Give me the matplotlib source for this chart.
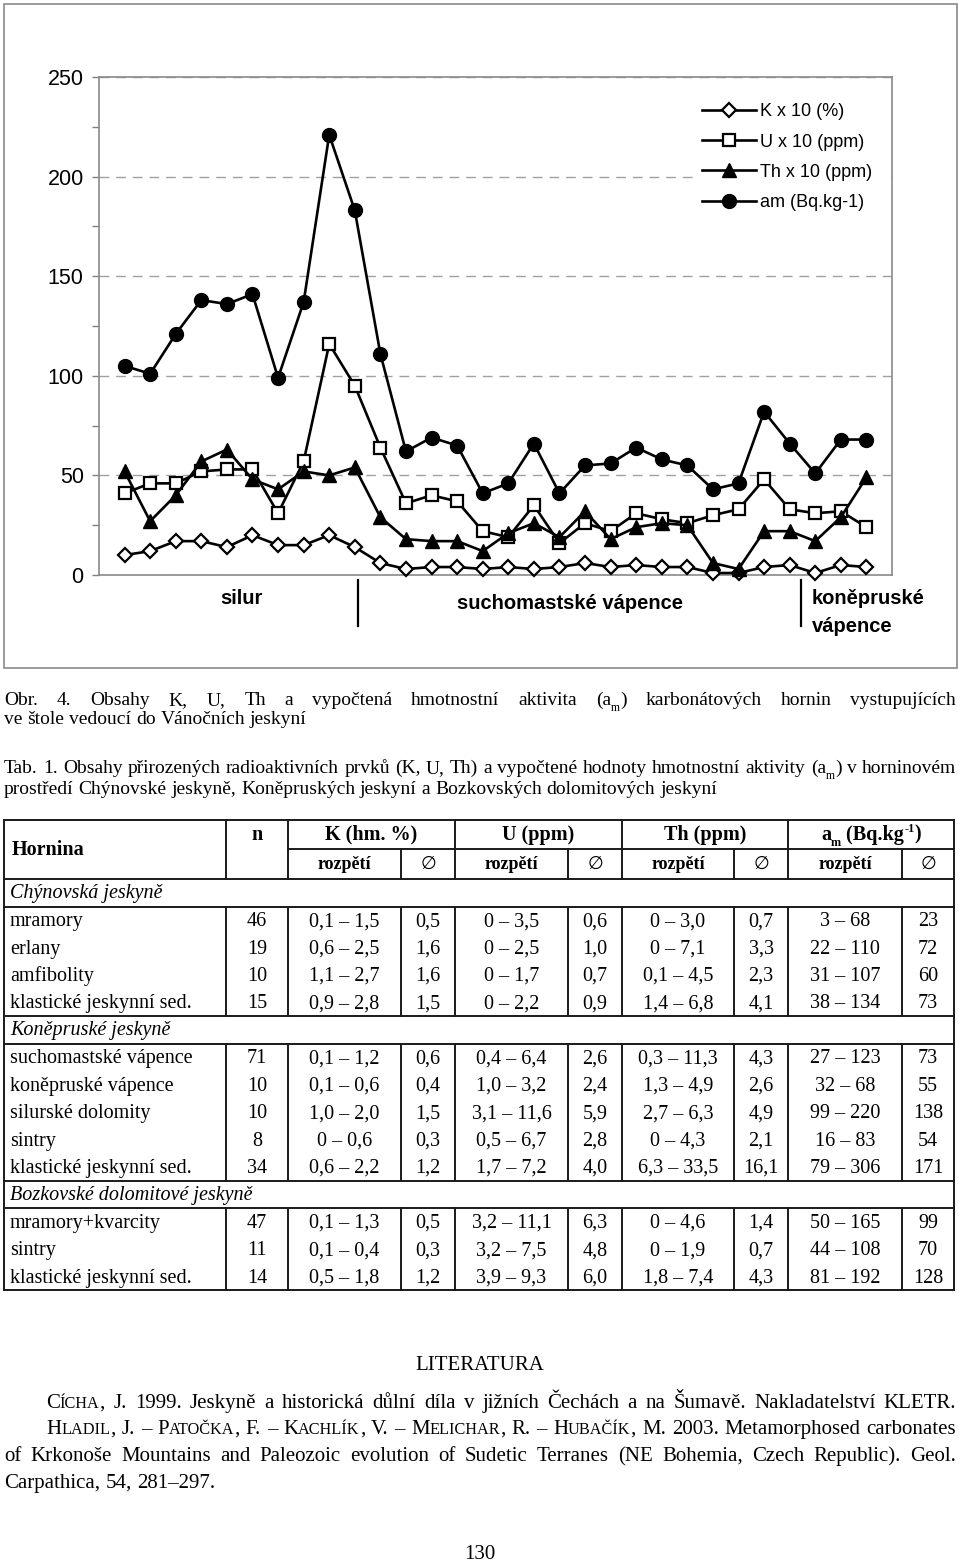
import matplotlib
matplotlib.use('Agg')
import matplotlib.pyplot as plt
from matplotlib.patches import Rectangle

W, H, DPI = 960, 1561, 100

# ---------------- chart data ----------------
sample_idx = list(range(30))
K_x10 = [10, 12, 17, 17, 14, 20, 15, 15, 20, 14, 6, 3, 4, 4, 3, 4, 3, 4, 6, 4,
         5, 4, 4, 1, 1, 4, 5, 1, 5, 4]
U_x10 = [41, 46, 46, 52, 53, 53, 31, 57, 116, 95, 64, 36, 40, 37, 22, 19, 35, 16, 26, 22,
         31, 28, 26, 30, 33, 48, 33, 31, 32, 24]
Th_x10 = [52, 27, 40, 57, 63, 48, 43, 52, 50, 54, 29, 18, 17, 17, 12, 21, 26, 19, 32, 18,
          24, 26, 25, 6, 3, 22, 22, 17, 29, 49]
am = [105, 101, 121, 138, 136, 141, 99, 137, 221, 183, 111, 62, 69, 65, 41, 46, 66, 41, 55, 56,
      64, 58, 55, 43, 46, 82, 66, 51, 68, 68]
series_labels = ["K x 10 (%)", "U x 10 (ppm)", "Th x 10 (ppm)", "am (Bq.kg-1)"]
y_ticks = [0, 50, 100, 150, 200, 250]
group_labels = ["silur", "suchomastské vápence", "koněpruské\nvápence"]

# ---------------- table data ----------------
groups = ["Chýnovská jeskyně", "Koněpruské jeskyně", "Bozkovské dolomitové jeskyně"]
group_sizes = [4, 5, 3]
rocks = ["mramory", "erlany", "amfibolity", "klastické jeskynní sed.",
         "suchomastské vápence", "koněpruské vápence", "silurské dolomity", "sintry",
         "klastické jeskynní sed.", "mramory+kvarcity", "sintry", "klastické jeskynní sed."]
n_samples = ["46", "19", "10", "15", "71", "10", "10", "8", "34", "47", "11", "14"]
K_range = ["0,1 – 1,5", "0,6 – 2,5", "1,1 – 2,7", "0,9 – 2,8", "0,1 – 1,2", "0,1 – 0,6",
           "1,0 – 2,0", "0 – 0,6", "0,6 – 2,2", "0,1 – 1,3", "0,1 – 0,4", "0,5 – 1,8"]
K_mean = ["0,5", "1,6", "1,6", "1,5", "0,6", "0,4", "1,5", "0,3", "1,2", "0,5", "0,3", "1,2"]
U_range = ["0 – 3,5", "0 – 2,5", "0 – 1,7", "0 – 2,2", "0,4 – 6,4", "1,0 – 3,2",
           "3,1 – 11,6", "0,5 – 6,7", "1,7 – 7,2", "3,2 – 11,1", "3,2 – 7,5", "3,9 – 9,3"]
U_mean = ["0,6", "1,0", "0,7", "0,9", "2,6", "2,4", "5,9", "2,8", "4,0", "6,3", "4,8", "6,0"]
Th_range = ["0 – 3,0", "0 – 7,1", "0,1 – 4,5", "1,4 – 6,8", "0,3 – 11,3", "1,3 – 4,9",
            "2,7 – 6,3", "0 – 4,3", "6,3 – 33,5", "0 – 4,6", "0 – 1,9", "1,8 – 7,4"]
Th_mean = ["0,7", "3,3", "2,3", "4,1", "4,3", "2,6", "4,9", "2,1", "16,1", "1,4", "0,7", "4,3"]
am_range = ["3 – 68", "22 – 110", "31 – 107", "38 – 134", "27 – 123", "32 – 68",
            "99 – 220", "16 – 83", "79 – 306", "50 – 165", "44 – 108", "81 – 192"]
am_mean = ["23", "72", "60", "73", "73", "55", "138", "54", "171", "99", "70", "128"]
col_heads = ["K (hm. %)", "U (ppm)", "Th (ppm)"]

# ---------------- texts ----------------
cap_obr = ["Obr. 4. Obsahy K, U, Th a vypočtená hmotnostní aktivita (a_m) karbonátových hornin vystupujících",
           "ve štole vedoucí do Vánočních jeskyní"]
cap_tab = ["Tab. 1. Obsahy přirozených radioaktivních prvků (K, U, Th) a vypočtené hodnoty hmotnostní aktivity (a_m) v horninovém",
           "prostředí Chýnovské jeskyně, Koněpruských jeskyní a Bozkovských dolomitových jeskyní"]
lit_title = "LITERATURA"
refs = ["^Cícha, J. 1999. Jeskyně a historická důlní díla v jižních Čechách a na Šumavě. Nakladatelství KLETR.",
        "^Hladil, J. – ^Patočka, F. – ^Kachlík, V. – ^Melichar, R. – ^Hubačík, M. 2003. Metamorphosed carbonates",
        "of Krkonoše Mountains and Paleozoic evolution of Sudetic Terranes (NE Bohemia, Czech Republic). Geol.",
        "Carpathica, 54, 281–297."]
page_no = "130"

plt.rcParams['font.family'] = ['Liberation Sans', 'DejaVu Sans']
SERIF = ['Liberation Serif', 'DejaVu Sans']
SYM = ['DejaVu Sans', 'DejaVu Serif', 'Noto Sans CJK SC']

fig = plt.figure(figsize=(W / DPI, H / DPI), dpi=DPI)
ov = fig.add_axes([0, 0, 1, 1])
ov.set_xlim(0, W)
ov.set_ylim(H, 0)
ov.axis('off')
renderer = fig.canvas.get_renderer()

# ---------------- chart ----------------
L, R, T, B = 99, 892, 77, 575
ov.add_patch(Rectangle((4, 4), 953, 664, fill=False, ec='#8a8a8a', lw=1.2))
ax = fig.add_axes([L / W, 1 - B / H, (R - L) / W, (B - T) / H])
ax.set_xlim(-1, 30)
ax.set_ylim(0, 250)
ax.set_yticks(y_ticks)
ax.set_yticks([25, 75, 125, 175, 225], minor=True)
ax.set_xticks([])
ax.tick_params(axis='y', which='both', direction='out', length=5, width=1,
               color='#808080', labelsize=15.5, pad=6)
for s in ax.spines.values():
    s.set_color('#8a8a8a')
    s.set_linewidth(1.2)
ax.grid(axis='y', which='major', linestyle=(0, (7, 5)), color='#a0a0a0', lw=1)

styles = [
    dict(marker='D', ms=7.5, mfc='white', mew=1.6),
    dict(marker='s', ms=9, mfc='white', mew=1.6),
    dict(marker='^', ms=10, mfc='black', mew=1),
    dict(marker='o', ms=10, mfc='black', mew=1),
]
for vals, lab, st in zip([K_x10, U_x10, Th_x10, am], series_labels, styles):
    ax.plot(sample_idx, vals, color='black', lw=1.9, mec='black', label=lab,
            clip_on=False, zorder=3, **st)

# white legend background (interrupts gridline like original)
ax.add_patch(Rectangle(((697 - L) / (R - L), (B - 226) / (B - T)), (R - 1 - 697) / (R - L),
                       (226 - 92) / (B - T), transform=ax.transAxes, fc='white', ec='none',
                       zorder=1.7))
leg = ax.legend(loc='upper left', bbox_to_anchor=((697 - L) / (R - L), (B - 98) / (B - T)),
                fontsize=13, frameon=False, borderpad=0.3, handlelength=2.95,
                handletextpad=0.22, labelspacing=0.73, borderaxespad=0, numpoints=1)

# group labels under chart
ov.text(241, 598, group_labels[0], ha='center', va='center', fontsize=14.5, fontweight='bold')
ov.text(570, 603, group_labels[1], ha='center', va='center', fontsize=14.5, fontweight='bold')
kv = group_labels[2].split('\n')
ov.text(812, 598, kv[0], ha='left', va='center', fontsize=14.5, fontweight='bold')
ov.text(812, 626, kv[1], ha='left', va='center', fontsize=14.5, fontweight='bold')
for xs in (358, 801):
    ov.plot([xs, xs], [580, 626], color='black', lw=1.6)


# ---------------- text helpers ----------------
def tokens_to_runs(token):
    runs = []
    if token.startswith('^'):
        t = token[1:]
        j = 1
        while j < len(t) and t[j].isalpha():
            j += 1
        runs.append((t[0], 1.0, 0.0))
        runs.append((t[1:j].upper(), 0.78, 0.0))
        if j < len(t):
            runs.append((t[j:], 1.0, 0.0))
    elif '_' in token:
        a, b = token.split('_', 1)
        runs.append((a, 1.0, 0.0))
        runs.append((b[0], 0.6, 0.3))
        if b[1:]:
            runs.append((b[1:], 1.0, 0.0))
    else:
        runs.append((token, 1.0, 0.0))
    return runs


def make_word(runs, y, size, **kw):
    texts, widths = [], []
    for s, rel, dy in runs:
        t = ov.text(0, y + dy * size * DPI / 72, s, fontsize=size * rel, va='baseline',
                    ha='left', family=SERIF, **kw)
        w = t.get_window_extent(renderer=renderer).width
        texts.append(t)
        widths.append(w)
    return texts, widths


def text_line(line, x0, x1, y, size, justify=True, center=False, **kw):
    words = [tokens_to_runs(tok) for tok in line.split(' ')]
    while True:
        made = [make_word(r, y, size, **kw) for r in words]
        wsum = [sum(w) for _, w in made]
        total = sum(wsum)
        space = 0.25 * size * DPI / 72
        n = len(words)
        if justify and n > 1:
            gap = (x1 - x0 - total) / (n - 1)
            if gap < 2.0:
                for texts, _ in made:
                    for t in texts:
                        t.remove()
                size *= (x1 - x0 - 2.0 * (n - 1)) / total * 0.995
                continue
        else:
            gap = space
        break
    width = total + gap * (n - 1)
    cx = x0 if not center else (x0 + x1) / 2 - width / 2
    for (texts, ws) in made:
        for t, w in zip(texts, ws):
            xx, yy = t.get_position()
            t.set_position((cx, yy))
            cx += w
        cx += gap


# ---------------- captions ----------------
text_line(cap_obr[0], 4, 956, 705, 14, justify=True)
text_line(cap_obr[1], 4, 956, 724, 14, justify=False)
text_line(cap_tab[0], 4, 956, 773, 14, justify=True)
text_line(cap_tab[1], 4, 956, 794, 14, justify=False)

# ---------------- table ----------------
col_x = [4, 226, 288, 401, 455, 568, 622, 734, 788, 902, 954]
y_top, y_mid, y_hdr = 820, 849, 879
row_h, grp_h = 27.4, 27.5
LC, LW = '#1a1a1a', 1.4


def hline(y, xa=col_x[0], xb=col_x[-1]):
    ov.plot([xa, xb], [y, y], color=LC, lw=LW, solid_capstyle='projecting')


def vline(x, ya, yb):
    ov.plot([x, x], [ya, yb], color=LC, lw=LW, solid_capstyle='projecting')


hline(y_top)
hline(y_mid, col_x[2], col_x[-1])
hline(y_hdr)
for x in (col_x[1], col_x[2], col_x[4], col_x[6], col_x[8]):
    vline(x, y_top, y_hdr)
for x in (col_x[3], col_x[5], col_x[7], col_x[9]):
    vline(x, y_mid, y_hdr)

TS = 14.5
hy1, hy2 = (y_top + y_mid) / 2, (y_mid + y_hdr) / 2
ov.text(12, (y_top + y_hdr) / 2, "Hornina", ha='left', va='center', fontsize=TS,
        fontweight='bold', family=SERIF)
ov.text((col_x[1] + col_x[2]) / 2, hy1, "n", ha='center', va='center', fontsize=TS,
        fontweight='bold', family=SERIF)
for k, head in enumerate(col_heads):
    xa, xb = col_x[2 + 2 * k], col_x[4 + 2 * k]
    ov.text((xa + xb) / 2, hy1, head, ha='center', va='center', fontsize=TS,
            fontweight='bold', family=SERIF)
# a_m (Bq.kg-1) header built from runs
am_runs = [("a", 1.0, 0.0), ("m", 0.6, 0.3), (" (Bq.kg", 1.0, 0.0), ("-1", 0.6, -0.38), (")", 1.0, 0.0)]
texts, ws = make_word(am_runs, hy1 + 5, TS, fontweight='bold')
cx = (col_x[8] + col_x[10]) / 2 - sum(ws) / 2
for t, w in zip(texts, ws):
    t.set_x(cx)
    cx += w
for k in range(4):
    xa, xm, xb = col_x[2 + 2 * k], col_x[3 + 2 * k], col_x[4 + 2 * k]
    ov.text((xa + xm) / 2, hy2, "rozpětí", ha='center', va='center', fontsize=13,
            fontweight='bold', family=SERIF)
    ov.text((xm + xb) / 2, hy2, "∅", ha='center', va='center', fontsize=13,
            family=SYM, fontweight='normal')

y = y_hdr
ri = 0
cols = [n_samples, K_range, K_mean, U_range, U_mean, Th_range, Th_mean, am_range, am_mean]
for g, gname in enumerate(groups):
    ov.text(10, y + grp_h / 2 + 1, gname, ha='left', va='center', fontsize=TS,
            fontstyle='italic', family=SERIF)
    y += grp_h
    hline(y)
    top = y
    for r in range(group_sizes[g]):
        cyr = y + row_h / 2 + 1.5
        ov.text(10, cyr, rocks[ri], ha='left', va='center', fontsize=TS, family=SERIF)
        for c, arr in enumerate(cols):
            xc = (col_x[1 + c] + col_x[2 + c]) / 2
            ov.text(xc, cyr, arr[ri], ha='center', va='center', fontsize=TS, family=SERIF)
        ri += 1
        y += row_h
    for x in col_x[1:-1]:
        vline(x, top, y)
    hline(y)
vline(col_x[0], y_top, y)
vline(col_x[-1], y_top, y)

# ---------------- literature ----------------
ov.text(480, 1370, lit_title, ha='center', va='baseline', fontsize=15, family=SERIF)
text_line(refs[0], 46, 956, 1408, 15, justify=True)
text_line(refs[1], 46, 956, 1434, 15, justify=True)
text_line(refs[2], 4, 956, 1461, 15, justify=True)
text_line(refs[3], 4, 956, 1488, 15, justify=False)
ov.text(480, 1559, page_no, ha='center', va='baseline', fontsize=15, family=SERIF)

fig.savefig('out.png', dpi=DPI)
